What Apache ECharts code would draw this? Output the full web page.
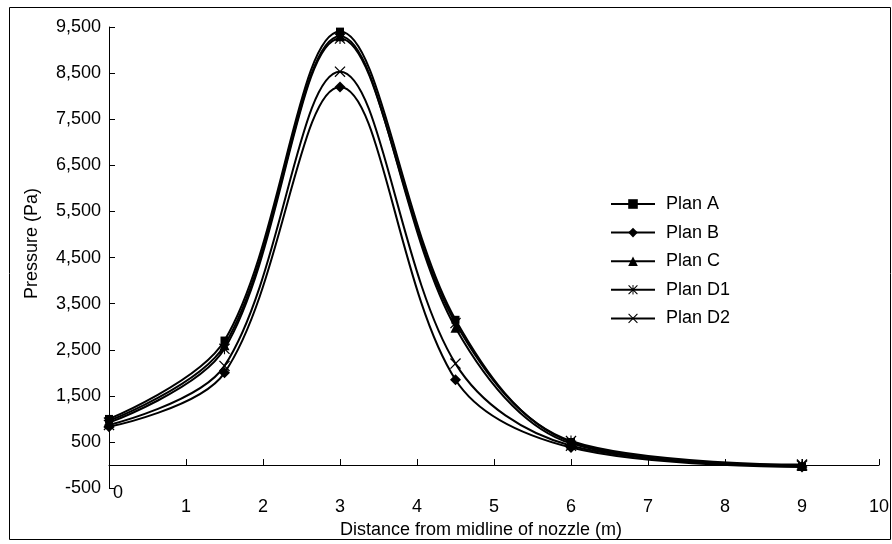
<!DOCTYPE html>
<html>
<head>
<meta charset="utf-8">
<script src="https://cdn.jsdelivr.net/npm/echarts@6/dist/echarts.min.js"></script>
<style>html,body{margin:0;padding:0;background:#fff}#c{width:892px;height:544px}</style>
</head>
<body>
<div id="c"></div>
<script>
var xValues = [0, 1.5, 3, 4.5, 6, 9];
var planA  = [1000, 2700, 9400, 3150, 500, -30];
var planB  = [830, 2000, 8200, 1850, 380, -40];
var planC  = [960, 2600, 9300, 2980, 470, -20];
var planD1 = [920, 2520, 9250, 3080, 520, 10];
var planD2 = [870, 2150, 8530, 2200, 420, -10];
var yTickValues = [-500, 500, 1500, 2500, 3500, 4500, 5500, 6500, 7500, 8500, 9500];
var seriesNames = ['Plan A', 'Plan B', 'Plan C', 'Plan D1', 'Plan D2'];

var FONT = 'Liberation Sans';
var FS = 18;
var xSym = 'path://M0,8L8,0L100,92L92,100Z M92,0L100,8L8,100L0,92Z';
var starSym = 'path://M0,8L8,0L100,92L92,100Z M92,0L100,8L8,100L0,92Z M45,0L55,0L55,100L45,100Z';

function pts(vals) { return xValues.map(function (x, i) { return [x, vals[i]]; }); }
function mk(name, vals, symbol, size) {
  return {
    name: name, type: 'line', data: pts(vals), smooth: 0.35,
    symbol: symbol, symbolSize: size, showAllSymbol: true,
    lineStyle: { color: '#000', width: 2 },
    itemStyle: { color: '#000', borderWidth: 0 },
    emphasis: { disabled: true }
  };
}

var chart = echarts.init(document.getElementById('c'), null, { renderer: 'canvas' });
chart.setOption({
  animation: false,
  backgroundColor: '#fff',
  textStyle: { fontFamily: FONT },
  grid: { left: 109, right: 13, top: 27, bottom: 37, containLabel: false },
  legend: {
    orient: 'vertical', left: 605, top: 189,
    itemWidth: 44, itemHeight: 12, itemGap: 8.6,
    textStyle: { fontFamily: FONT, fontSize: FS, color: '#000', lineHeight: 20, padding: [0, 0, 0, 6] },
    data: seriesNames
  },
  xAxis: {
    type: 'value', min: 0, max: 10, interval: 1,
    name: 'Distance from midline of nozzle (m)', nameLocation: 'middle', nameGap: 30,
    nameTextStyle: { fontFamily: FONT, fontSize: FS, color: '#000', padding: [0, 26, 0, 0] },
    axisLine: { onZero: true, lineStyle: { color: '#000', width: 1 } },
    axisTick: { inside: true, length: 6, lineStyle: { color: '#000' } },
    axisLabel: { showMinLabel: false, margin: 10, fontFamily: FONT, fontSize: FS, color: '#000' },
    splitLine: { show: false }
  },
  yAxis: {
    type: 'value', min: -500, max: 9500, interval: 500,
    name: 'Pressure (Pa)', nameLocation: 'middle', nameGap: 68,
    nameTextStyle: { fontFamily: FONT, fontSize: FS, color: '#000', padding: [0, 0, 0, 28] },
    axisLine: { show: true, onZero: false, lineStyle: { color: '#000', width: 1 } },
    axisTick: { show: true, inside: true, length: 6, customValues: yTickValues, lineStyle: { color: '#000' } },
    axisLabel: {
      margin: 8, fontFamily: FONT, fontSize: FS, color: '#000', customValues: yTickValues,
      formatter: function (v) { return v.toLocaleString('en-US'); }
    },
    splitLine: { show: false }
  },
  graphic: [
    { type: 'rect', shape: { x: 9.5, y: 7.5, width: 881, height: 532 }, style: { fill: null, stroke: '#000', lineWidth: 1 }, silent: true, z: -1 },
    { type: 'text', left: 113, top: 484, style: { text: '0', font: FS + 'px "Liberation Sans"', fill: '#000' }, silent: true }
  ],
  series: [
    mk('Plan A', planA, 'rect', 8),
    mk('Plan B', planB, 'diamond', 11),
    mk('Plan C', planC, 'triangle', 10),
    mk('Plan D1', planD1, starSym, 11),
    mk('Plan D2', planD2, xSym, 11)
  ]
});
</script>
</body>
</html>
